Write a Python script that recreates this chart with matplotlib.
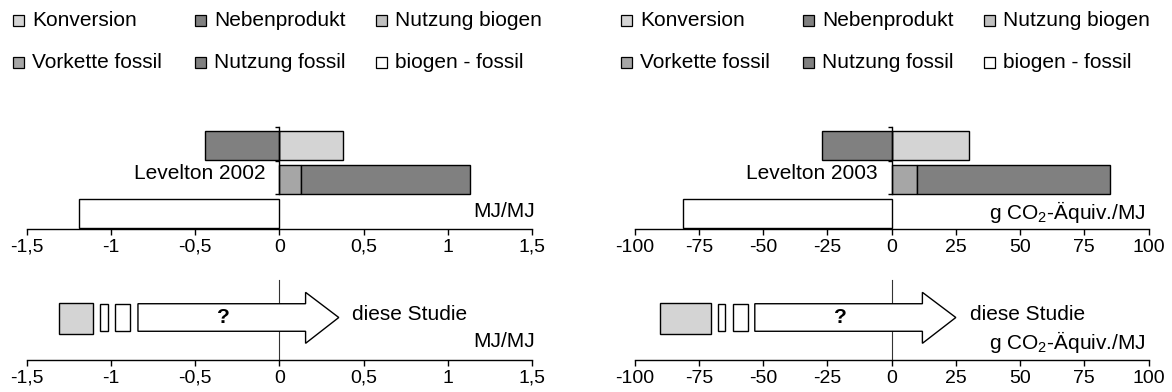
import matplotlib
matplotlib.use("Agg")
import matplotlib.pyplot as plt
from matplotlib.patches import Rectangle, Polygon

plt.rcParams["font.family"] = ["Liberation Sans", "DejaVu Sans"]
plt.rcParams["mathtext.default"] = "regular"

# legend / components
components = ["Konversion", "Nebenprodukt", "Nutzung biogen",
              "Vorkette fossil", "Nutzung fossil", "biogen - fossil"]
comp_colors = ["#d4d4d4", "#808080", "#c0c0c0", "#a6a6a6", "#808080", "#ffffff"]
comp_row = [2, 2, 2, 1, 1, 0]   # 2 = top bar, 0 = bottom bar

# Levelton values
energy_vals = [0.38, -0.44, 0.0, 0.13, 1.00, -1.19]     # MJ/MJ (2002)
ghg_vals = [30, -27, 0, 10, 75, -81]                    # g CO2-Aequiv./MJ (2003)

energy_ticks = [-1.5, -1, -0.5, 0, 0.5, 1, 1.5]
energy_labels = ["-1,5", "-1", "-0,5", "0", "0,5", "1", "1,5"]
ghg_ticks = [-100, -75, -50, -25, 0, 25, 50, 75, 100]
ghg_labels = ["-100", "-75", "-50", "-25", "0", "25", "50", "75", "100"]

# "diese Studie" schematic: boxes (from, to) and arrow (start, head, tip)
study_boxes_energy = [(-1.305, -1.103), (-1.067, -1.015), (-0.975, -0.885)]
study_arrow_energy = (-0.839, 0.156, 0.353)
study_boxes_ghg = [(-90.2, -70.3), (-67.7, -64.8), (-61.8, -56.0)]
study_arrow_ghg = (-53.2, 12.0, 25.0)
study_box_colors = ["#d4d4d4", "#ffffff", "#ffffff"]

W, H = 1172, 392
fig = plt.figure(figsize=(W / 100, H / 100), dpi=100)


def frac_rect(x0, x1, ytop, ybot):
    return [x0 / W, 1 - ybot / H, (x1 - x0) / W, (ybot - ytop) / H]


TXT = 15
TCK = 14
TOP_AX = 229      # pixel row of upper x axis
BOT_AX = 360      # pixel row of lower x axis


def style_xaxis(ax, ticks, labels, xlim):
    ax.set_xlim(*xlim)
    ax.set_xticks(ticks)
    ax.set_xticklabels(labels, fontsize=TCK)
    ax.tick_params(axis="x", direction="out", length=4, width=1, pad=3)
    for s in ["top", "right"]:
        ax.spines[s].set_visible(False)
    ax.spines["bottom"].set_linewidth(1)
    ax.patch.set_alpha(0)


def panel(x0, x1, vals, ticks, labels, xlim, source, src_x, unit, unit_x,
          boxes, arrow):
    # --- Levelton bars
    ax = fig.add_axes(frac_rect(x0, x1, 120, TOP_AX))
    style_xaxis(ax, ticks, labels, xlim)
    ax.set_ylim(-0.45, -0.45 + (TOP_AX - 120) / 34)
    pos = {}
    neg = {}
    for name, col, row, v in zip(components, comp_colors, comp_row, vals):
        if v == 0:
            continue
        if v > 0:
            left = pos.get(row, 0)
            pos[row] = left + v
        else:
            left = neg.get(row, 0)
            neg[row] = left + v
        ax.barh(row, v, left=left, height=0.87, color=col,
                edgecolor="black", linewidth=1.0)
    ax.spines["left"].set_position(("data", 0))
    ax.spines["left"].set_bounds(0.57, 2.56)
    ax.spines["left"].set_linewidth(1)
    ax.set_yticks([0.57, 1.55, 2.56])
    ax.set_yticklabels([])
    ax.tick_params(axis="y", direction="out", length=3, width=1)
    ax.text(src_x, 1.19, source, ha="right", va="center", fontsize=TXT)
    ax.text(unit_x, 0.06, unit, ha="right", va="center", fontsize=TXT)

    # --- this study (schematic)
    bx = fig.add_axes(frac_rect(x0, x1, 275, BOT_AX))
    style_xaxis(bx, ticks, labels, xlim)
    bx.spines["left"].set_visible(False)
    bx.set_yticks([])
    bx.set_ylim(0, 1)
    tr = bx.get_xaxis_transform()
    bx.plot([0, 0], [0, 0.94], color="#333333", lw=0.8, transform=tr, zorder=1)
    for (a, b), c in zip(boxes, study_box_colors):
        y0, y1 = (0.306, 0.674) if c != "#ffffff" else (0.338, 0.662)
        bx.add_patch(Rectangle((a, y0), b - a, y1 - y0, transform=tr,
                               facecolor=c, edgecolor="black", lw=1.0, zorder=3))
    s, h, t = arrow
    pts = [(s, 0.338), (h, 0.338), (h, 0.196), (t, 0.5), (h, 0.796),
           (h, 0.662), (s, 0.662)]
    bx.add_patch(Polygon(pts, closed=True, transform=tr, facecolor="white",
                         edgecolor="black", lw=1.0, zorder=3))
    qx = s + (h - s) * 0.51
    bx.text(qx, 0.5, "?", ha="center", va="center", fontsize=TXT,
            fontweight="bold", transform=tr, zorder=4)
    span = xlim[1] - xlim[0]
    bx.text(t + span * 0.027, 0.53, "diese Studie", ha="left", va="center",
            fontsize=TXT, transform=tr)
    bx.text(unit_x, 0.215, unit, ha="right", va="center", fontsize=TXT,
            transform=tr)

    # --- legend (two rows of three)
    col_off = [-13.6, 168.4, 349.4]
    row_y = [20, 62]
    for i, (name, col) in enumerate(zip(components, comp_colors)):
        mx = x0 + col_off[i % 3]
        my = row_y[i // 3]
        fig.add_artist(Rectangle((mx / W, 1 - (my + 5.5) / H), 11 / W, 11 / H,
                                 transform=fig.transFigure, facecolor=col,
                                 edgecolor="black", lw=0.9))
        fig.text((mx + 19) / W, 1 - my / H, name, ha="left", va="center",
                 fontsize=TXT)


panel(26.6, 532.0, energy_vals, energy_ticks, energy_labels, (-1.5, 1.5),
      "Levelton 2002", -0.08, "MJ/MJ", 1.515,
      study_boxes_energy, study_arrow_energy)
panel(634.5, 1148.6, ghg_vals, ghg_ticks, ghg_labels, (-100, 100),
      "Levelton 2003", -5.3, "g CO$_2$-Äquiv./MJ", 98.8,
      study_boxes_ghg, study_arrow_ghg)

fig.savefig("out.png", dpi=100)
